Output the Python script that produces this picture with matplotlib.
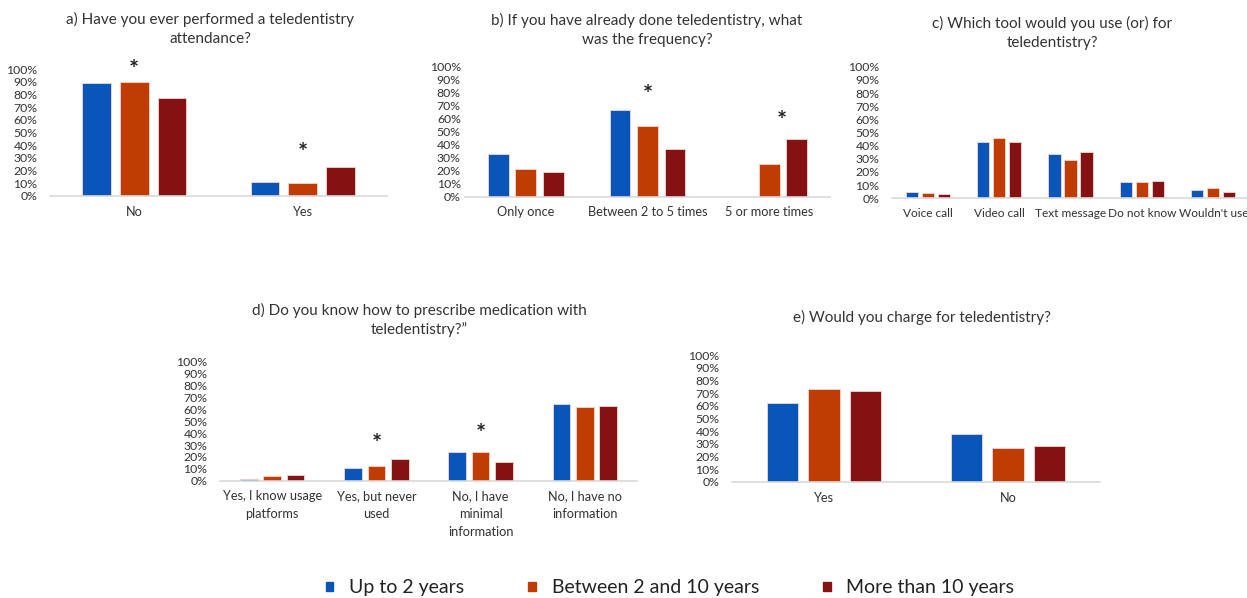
import numpy as np
import matplotlib.pyplot as plt

plt.rcParams['font.family'] = ['Lato', 'DejaVu Sans']

# Series (years since graduation)
groups = ['Up to 2 years', 'Between 2 and 10 years', 'More than 10 years']
colors = ['#0A55BA', '#BF3D02', '#841213']

# a) Have you ever performed a teledentistry attendance?
cat_a = ['No', 'Yes']
val_a = [[89, 11], [90, 10], [77, 23]]

# b) frequency
cat_b = ['Only once', 'Between 2 to 5 times', '5 or more times']
val_b = [[33, 67, 0], [21, 54, 25], [19, 37, 44]]

# c) tool
cat_c = ['Voice call', 'Video call', 'Text message', 'Do not know', "Wouldn't use"]
val_c = [[4.6, 42.5, 33.4, 12.2, 6.6], [4.0, 46, 28.9, 12.2, 8.1], [3.5, 43, 35, 13.4, 5.0]]

# d) prescribe medication
cat_d = ['Yes, I know usage\nplatforms', 'Yes, but never\nused', 'No, I have\nminimal\ninformation', 'No, I have no\ninformation']
val_d = [[1.4, 10.6, 24, 64.7], [3.6, 12, 23.8, 62], [4.8, 18.5, 16, 62.5]]

# e) charge
cat_e = ['Yes', 'No']
val_e = [[62, 38], [73.5, 26.5], [71.7, 28.6]]

titles = ['a) Have you ever performed a teledentistry\nattendance?',
          'b) If you have already done teledentistry, what\nwas the frequency?',
          'c) Which tool would you use (or) for\nteledentistry?',
          'd) Do you know how to prescribe medication with\nteledentistry?\u201d',
          'e) Would you charge for teledentistry?']

# significance stars: (category index, x offset in bar steps, height %)
stars_a = [(0, 0, 104), (1, 0, 38.7)]
stars_b = [(1, 0, 82.5), (2, 0.45, 63)]
stars_c = []
stars_d = [(1, 0, 35.6), (2, 0, 44)]
stars_e = []

W, H = 1247, 598
fig = plt.figure(figsize=(W / 100, H / 100), dpi=100)


def px_axes(x0, x1, y0, y1):
    # pixel box (y0 = 0% line, y1 = 100% line) to figure fraction
    return fig.add_axes([x0 / W, 1 - y0 / H, (x1 - x0) / W, (y0 - y1) / H])


panels = [
    (cat_a, val_a, stars_a, (50, 387, 196, 69), 9, (210, 29), 9.2),
    (cat_b, val_b, stars_b, (465, 830, 196.7, 66.7), 3, (647, 30), 9.2),
    (cat_c, val_c, stars_c, (892, 1249, 198.3, 66.7), 9, (1052, 33), 8.6),
    (cat_d, val_d, stars_d, (220, 637, 480.7, 361.7), 9, (419, 320), 9.2),
    (cat_e, val_e, stars_e, (732, 1100, 482, 355), 9, (922, 317), 9.2),
]

bw = 0.17
step = 0.225
for (cats, vals, stars, box, ypad, tpos, xls), title in zip(panels, titles):
    ax = px_axes(*box)
    x = np.arange(len(cats))
    for i in range(3):
        ax.bar(x + (i - 1) * step, vals[i], width=bw, color=colors[i],
               edgecolor='#f2d6d0', linewidth=0.6, zorder=2)
    for ci, off, h in stars:
        ax.text(ci + off * step, h - 5, '*', ha='center', va='center',
                fontsize=17, fontweight='bold', color='#222222')
    ax.set_xlim(-0.5, len(cats) - 0.5)
    ax.set_ylim(0, 100)
    ax.set_yticks(np.arange(0, 101, 10))
    ax.set_yticklabels(['%d%%' % v for v in range(0, 101, 10)])
    ax.set_xticks(x)
    ax.set_xticklabels(cats, linespacing=1.6)
    ax.tick_params(axis='y', length=0, pad=ypad, labelsize=8.8, labelcolor='#333333')
    ax.tick_params(axis='x', length=0, pad=7, labelsize=xls, labelcolor='#333333')
    for s in ['top', 'right', 'left']:
        ax.spines[s].set_visible(False)
    ax.spines['bottom'].set_color('#D9D9D9')
    ax.spines['bottom'].set_linewidth(1.2)
    ax.patch.set_alpha(0)
    fig.text(tpos[0] / W, 1 - tpos[1] / H, title, ha='center', va='center',
             fontsize=11, color='#333333', linespacing=1.4)

handles = [plt.Rectangle((0, 0), 1, 1, color=c) for c in colors]
fig.legend(handles, groups, loc='center', bbox_to_anchor=(670 / W, 1 - 588 / H),
           ncol=3, frameon=False, fontsize=14, handlelength=0.4, handleheight=0.4,
           handletextpad=0.8, columnspacing=3.3, labelcolor='#222222')

fig.savefig('out.png', dpi=100)
